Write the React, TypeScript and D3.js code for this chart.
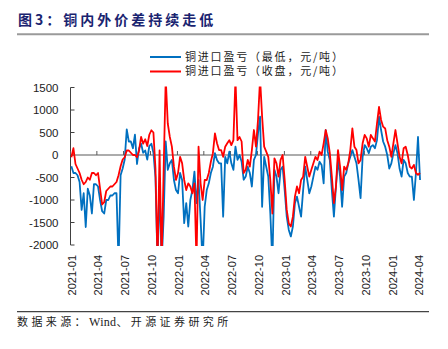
import React, { useEffect, useRef } from "react";
import * as d3 from "d3";

const startDate = new Date(2021, 0, 4);
const stepDays = 7;

const closeValues = [
  -50, 150, -200, -300, -400, -550, -650, -600, -500, -550,
  -400, -400, -450, -400, -750, -1100, -1050, -800, -750, -700,
  -700, -650, -600, -450, -250, -100, -50, 100, 100, 50,
  0, 0, -50, 100, 400, 250, 350, 200, 450, 550,
  500, -300, -2400, 100, -2400, -300, 1700, 700, 400, 185,
  -260, -555, -400, -40, -185, -555, -780, -630, -700, -850,
  -630, -2400, 185, -630, -1000, -555, -555, -400, -150, 40,
  480, 260, 110, 110, -40, 185, 260, 330, 220, 330,
  1700, 330, 400, 300, -400, -330, -110, -260, 110, 555,
  185, 780, 1700, 850, 185, 75, -40, -555, -1300, -75,
  -185, -480, -110, 0, -555, -1220, -1520, -1590, -1370, -925,
  -700, -850, -555, -480, -40, -260, -480, -330, -185, -40,
  -110, 75, 0, 260, 555, 370, 40, -480, -1070, -700,
  110, -260, -780, -260, -330, -185, 110, 590, 185, 110,
  -185, -110, 260, 445, 370, 185, 445, 370, 300, 700,
  1070, 780, 630, 590, 330, 185, -40, 260, 555, 260,
  -40, -185, 150, 185, 0, -260, -300, -220, -400, -440,
  -400,
];

const lowValues = [
  -250, -400, -400, -450, -600, -1220, -850, -1600, -750, -900,
  -1300, -650, -650, -700, -1000, -1250, -1300, -1000, -1000, -900,
  -900, -850, -850, -2400, -450, -300, -100, 570, 300, 300,
  150, 450, -200, 150, 250, 50, 100, -100, 200, 250,
  50, -500, -2400, -700, -2400, -1370, 300, -330, -185, -110,
  -555, -780, -850, -400, -555, -1515, -1070, -1590, -1000, -780,
  -370, -1070, -555, -1440, -2400, -1150, -780, -630, -400, -260,
  40, -110, -185, -185, -1370, -40, -185, 75, -185, -330,
  185, -110, 0, -150, -550, -480, -260, -400, -700, -110,
  0, 480, 850, -1150, -40, -260, -480, -1300, -2400, -330,
  -480, -850, -330, -260, -780, -1370, -1665, -1810, -1590, -1070,
  -925, -1150, -1370, -780, -260, -555, -850, -700, -480, -260,
  -330, -150, -220, -630, 555, 75, -110, -780, -1370, -700,
  -110, -480, -1150, -480, -400, -185, -40, 110, -40, -185,
  -555, -960, -40, 220, 150, 40, 185, 220, 150, 330,
  850, 555, 300, 185, 0, -300, -185, 40, 220, 40,
  -300, -480, -110, -185, -400, -480, -480, -1000, -400, 400,
  -555,
];

const xTickLabels = [
  "2021-01", "2021-04", "2021-07", "2021-10", "2022-01", "2022-04", "2022-07",
  "2022-10", "2023-01", "2023-04", "2023-07", "2023-10", "2024-01", "2024-04",
];
const yTicks = [1500, 1000, 500, 0, -500, -1000, -1500, -2000];
const seriesNames = ["铜进口盈亏（最低，元/吨）", "铜进口盈亏（收盘，元/吨）"];
const seriesColors = ["#0070C0", "#FF0000"];
const titleText = "图3：铜内外价差持续走低";
const sourceParts = ["数据来源：", "Wind", "、开源证券研究所"];

export default function App() {
  const ref = useRef<SVGSVGElement>(null);

  useEffect(() => {
    const svg = d3.select(ref.current);
    svg.selectAll("*").remove();

    const sansCJK = "'Noto Sans CJK SC', 'Noto Sans', sans-serif";
    const numFont = "'Liberation Sans', Arial, sans-serif";

    const parseTick = d3.timeParse("%Y-%m");
    const x = d3
      .scaleTime()
      .domain([parseTick(xTickLabels[0])!, parseTick(xTickLabels[xTickLabels.length - 1])!])
      .range([70.5, 418]);
    const y = d3.scaleLinear().domain([-2000, 1500]).range([245, 87.5]);

    // Title
    svg
      .append("text")
      .attr("x", 18)
      .attr("y", 25)
      .attr("font-family", sansCJK)
      .attr("font-size", 14)
      .attr("font-weight", "bold")
      .attr("letter-spacing", 3)
      .attr("fill", "#1A2470")
      .text(titleText);
    svg
      .append("line")
      .attr("x1", 17)
      .attr("x2", 429)
      .attr("y1", 34.3)
      .attr("y2", 34.3)
      .attr("stroke", "#9a9a9a")
      .attr("stroke-width", 2);

    // Legend
    seriesNames.forEach((name, i) => {
      const ly = 57 + i * 14.5;
      svg
        .append("line")
        .attr("x1", 150)
        .attr("x2", 181)
        .attr("y1", ly)
        .attr("y2", ly)
        .attr("stroke", seriesColors[i])
        .attr("stroke-width", 2);
      svg
        .append("text")
        .attr("x", 185)
        .attr("y", ly)
        .attr("dy", "0.36em")
        .attr("font-family", sansCJK)
        .attr("font-size", 11)
        .attr("letter-spacing", 1.8)
        .attr("fill", "#222")
        .text(name);
    });

    // Y axis
    svg
      .append("line")
      .attr("x1", 70.5)
      .attr("x2", 70.5)
      .attr("y1", y(1500))
      .attr("y2", y(-2000))
      .attr("stroke", "#404040")
      .attr("stroke-width", 1);
    yTicks.forEach((t) => {
      svg
        .append("line")
        .attr("x1", 70.5)
        .attr("x2", 74.5)
        .attr("y1", y(t))
        .attr("y2", y(t))
        .attr("stroke", "#404040");
      svg
        .append("text")
        .attr("x", 58.5)
        .attr("y", y(t))
        .attr("dy", "0.36em")
        .attr("text-anchor", "end")
        .attr("font-family", numFont)
        .attr("font-size", 11.5)
        .attr("fill", "#222")
        .text(String(t));
    });

    // X axis at zero
    const y0 = y(0);
    svg
      .append("line")
      .attr("x1", 70.5)
      .attr("x2", 420)
      .attr("y1", y0)
      .attr("y2", y0)
      .attr("stroke", "#5a5a5a")
      .attr("stroke-width", 1.2);
    xTickLabels.forEach((lab) => {
      const xd = x(parseTick(lab)!);
      svg
        .append("line")
        .attr("x1", xd)
        .attr("x2", xd)
        .attr("y1", y0)
        .attr("y2", y0 - 4)
        .attr("stroke", "#5a5a5a");
      svg
        .append("text")
        .attr("transform", `translate(${xd + 1.2},255) rotate(-90)`)
        .attr("dy", "0.36em")
        .attr("text-anchor", "end")
        .attr("font-family", numFont)
        .attr("font-size", 11)
        .attr("fill", "#222")
        .text(lab);
    });

    // Series
    const clipId = "plotClip";
    svg
      .append("clipPath")
      .attr("id", clipId)
      .append("rect")
      .attr("x", 70)
      .attr("y", 86.5)
      .attr("width", 360)
      .attr("height", 159.5);

    const dates = lowValues.map((_, i) => d3.timeDay.offset(startDate, i * stepDays));
    const line = d3
      .line<number>()
      .x((_, i) => x(dates[i]))
      .y((v) => y(v));

    const g = svg.append("g").attr("clip-path", `url(#${clipId})`);
    [lowValues, closeValues].forEach((vals, i) => {
      g.append("path")
        .attr("d", line(vals)!)
        .attr("fill", "none")
        .attr("stroke", seriesColors[i])
        .attr("stroke-width", 1.8)
        .attr("stroke-linejoin", "round");
    });

    // Footer
    svg
      .append("line")
      .attr("x1", 17)
      .attr("x2", 429)
      .attr("y1", 311.7)
      .attr("y2", 311.7)
      .attr("stroke", "#444")
      .attr("stroke-width", 1.2);
    const ft = svg
      .append("text")
      .attr("x", 17)
      .attr("y", 326)
      .attr("font-family", "'Liberation Serif', 'Noto Sans CJK SC', serif")
      .attr("font-size", 11)
      .attr("fill", "#222");
    sourceParts.forEach((p, i) => {
      ft.append("tspan")
        .attr("letter-spacing", i === 1 ? 0.3 : 3.4)
        .attr("font-size", i === 1 ? 12 : 11)
        .text(p);
    });
  }, []);

  return (
    <svg
      ref={ref}
      width={448}
      height={349}
      style={{ position: "absolute", left: 0, top: 0, background: "#fff" }}
    />
  );
}
